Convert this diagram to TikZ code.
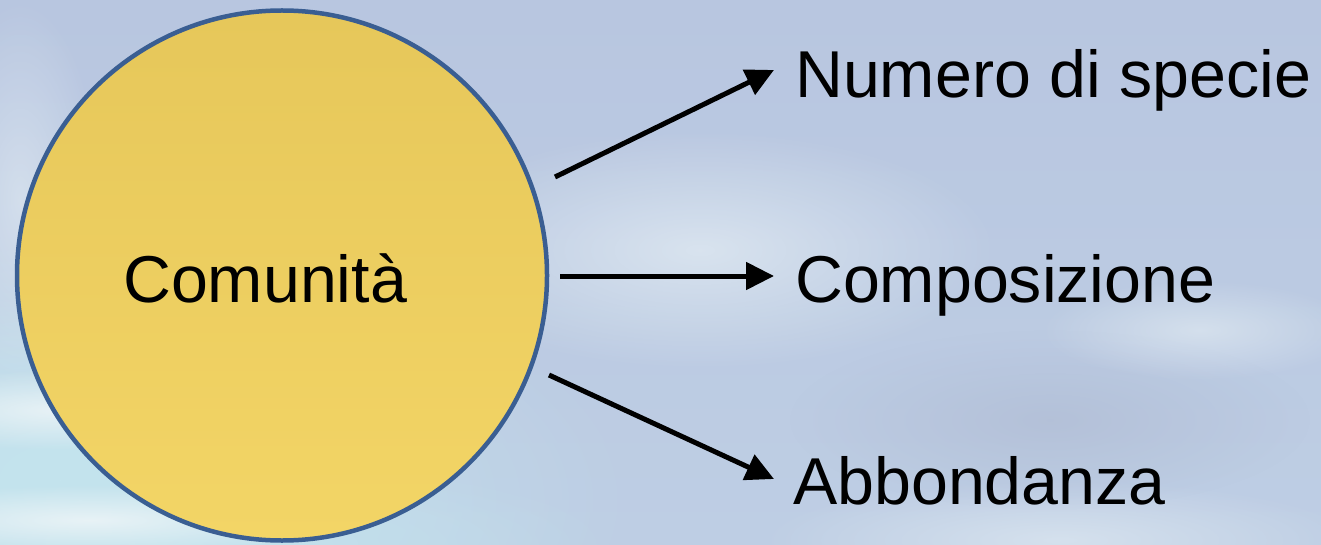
\documentclass[tikz,border=0pt]{standalone}
\usepackage{fontspec}
\setmainfont{Liberation Sans}
\usetikzlibrary{arrows.meta,fadings}
\tikzfading[name=softfade, inner color=transparent!0, outer color=transparent!100]
\definecolor{skytop}{RGB}{184,198,224}
\definecolor{skybot}{RGB}{190,206,228}
\definecolor{skycyan}{RGB}{196,228,238}
\definecolor{skywhite}{RGB}{236,244,247}
\definecolor{skygrey}{RGB}{176,188,212}
\definecolor{sunfill}{RGB}{230,199,90}
\definecolor{sunfillb}{RGB}{243,213,102}
\definecolor{sunedge}{RGB}{58,94,146}
\tikzset{
  conn/.style={line width=5pt, -{Triangle[length=28pt,width=27pt]}},
  lbl/.style={anchor=base west, inner sep=0pt, text=black, font=\fontsize{66.3}{78}\selectfont},
  sun/.style={circle, draw=sunedge, line width=4.5pt, top color=sunfill, bottom color=sunfillb, minimum size=530pt, inner sep=0pt},
}
\begin{document}
\begin{tikzpicture}[x=1pt,y=-1pt]
\fill[top color=skytop,bottom color=skybot] (0,0) rectangle (1321,545);
\useasboundingbox (0,0) rectangle (1321,545);
% sky tints
\fill[skycyan, path fading=softfade] (80,500) ellipse (560 and 260);
\fill[skycyan, path fading=softfade] (60,480) ellipse (300 and 180);
\fill[skycyan, path fading=softfade, opacity=0.8] (200,545) ellipse (420 and 90);
\fill[skywhite, path fading=softfade, opacity=0.9] (60,410) ellipse (200 and 40);
\fill[skywhite, path fading=softfade, opacity=0.9] (90,520) ellipse (260 and 35);
\fill[skywhite, path fading=softfade, opacity=0.5] (20,200) ellipse (80 and 200);
\fill[skywhite, path fading=softfade, opacity=0.6] (700,250) ellipse (300 and 120);
\fill[skywhite, path fading=softfade, opacity=0.5] (1060,540) ellipse (300 and 60);
\fill[skygrey, path fading=softfade, opacity=0.7] (1050,420) ellipse (260 and 90);
\fill[skywhite, path fading=softfade, opacity=0.5] (1200,330) ellipse (160 and 50);
% circle
\node[sun] (c) at (282,275.5) {};
\node[lbl] (tc) at (123,302) {Comunità};
% labels
\node[lbl] (n1) at (795,98) {Numero di specie};
\node[lbl] (n2) at (795,302) {Composizione};
\node[lbl] (n3) at (793,504) {Abbondanza};
% arrow ends
\coordinate (s1) at (555,177);
\coordinate (t1) at (774,70);
\coordinate (s2) at (560,276);
\coordinate (t2) at (774,276);
\coordinate (s3) at (549,375);
\coordinate (t3) at (774,479);
\draw[conn] (s1) -- (t1);
\draw[conn] (s2) -- (t2);
\draw[conn] (s3) -- (t3);
\end{tikzpicture}
\end{document}
